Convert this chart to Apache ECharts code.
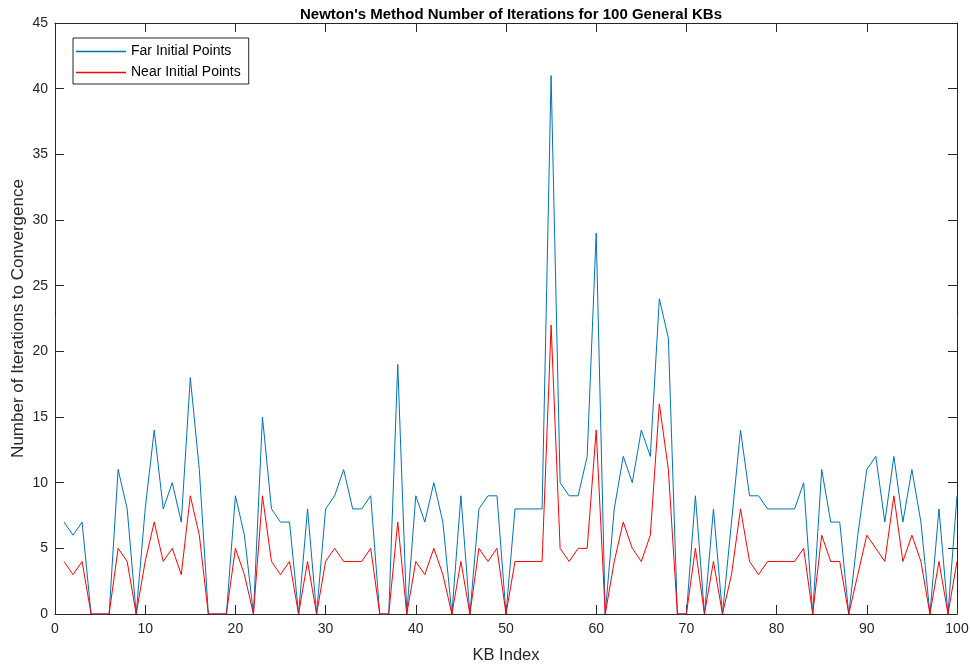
<!DOCTYPE html>
<html>
<head>
<meta charset="utf-8">
<script src="https://cdn.jsdelivr.net/npm/echarts@6/dist/echarts.min.js"></script>
<style>html,body{margin:0;padding:0;background:#fff;}#c{width:971px;height:668px;}</style>
</head>
<body>
<div id="c"></div>
<script>
const kbIndex = Array.from({length: 100}, (_, i) => i + 1);
const farIter = [
  7,6,7,0,0,0,11,8,0,8,
  14,8,10,7,18,11,0,0,0,9,
  6,0,15,8,7,7,0,8,0,8,
  9,11,8,8,9,0,0,19,0,9,
  7,10,7,0,9,0,8,9,9,0,
  8,8,8,8,41,10,9,9,12,29,
  0,8,12,10,14,12,24,21,0,0,
  9,0,8,0,7,14,9,9,8,8,
  8,8,10,0,11,7,7,0,6,11,
  12,7,12,7,11,7,0,8,0,9
];
const nearIter = [
  4,3,4,0,0,0,5,4,0,4,
  7,4,5,3,9,6,0,0,0,5,
  3,0,9,4,3,4,0,4,0,4,
  5,4,4,4,5,0,0,7,0,4,
  3,5,3,0,4,0,5,4,5,0,
  4,4,4,4,22,5,4,5,5,14,
  0,4,7,5,4,6,16,11,0,0,
  5,0,4,0,3,8,4,3,4,4,
  4,4,5,0,6,4,4,0,3,6,
  5,4,9,4,6,4,0,4,0,4
];
const axisColor = '#262626';
const font = 'Liberation Sans, Arial, Helvetica, sans-serif';
const chart = echarts.init(document.getElementById('c'));
const tickCommon = {show: true, inside: true, length: 9, lineStyle: {color: axisColor, width: 1}};
chart.setOption({
  animation: false,
  backgroundColor: '#fff',
  title: {
    text: "Newton's Method Number of Iterations for 100 General KBs",
    left: 506, top: 2, textAlign: 'center',
    textStyle: {fontFamily: font, fontSize: 15, fontWeight: 'bold', color: '#000'}
  },
  legend: {
    orient: 'vertical', left: 73, top: 38,
    padding: [6, 8, 4, 3], itemGap: 6, itemWidth: 50, itemHeight: 1.5,
    icon: 'rect',
    borderColor: '#262626', borderWidth: 1, backgroundColor: '#fff',
    textStyle: {fontFamily: font, fontSize: 14, lineHeight: 15, color: '#000'},
    data: ['Far Initial Points', 'Near Initial Points']
  },
  grid: {left: 55, right: 14, top: 23, bottom: 54, containLabel: false, outerBoundsMode: 'none'},
  xAxis: [
    {type: 'value', min: 0, max: 100, interval: 10, position: 'bottom',
     name: 'KB Index', nameLocation: 'middle', nameGap: 33, nameMoveOverlap: false,
     nameTextStyle: {fontFamily: font, fontSize: 16.5, color: axisColor},
     axisLine: {show: true, onZero: false, lineStyle: {color: axisColor, width: 1}},
     axisTick: tickCommon,
     axisLabel: {fontFamily: font, fontSize: 14, color: axisColor, margin: 8},
     splitLine: {show: false}},
    {type: 'value', min: 0, max: 100, interval: 10, position: 'top',
     axisLine: {show: true, onZero: false, lineStyle: {color: axisColor, width: 1}},
     axisTick: tickCommon, axisLabel: {show: false}, splitLine: {show: false}}
  ],
  yAxis: [
    {type: 'value', min: 0, max: 45, interval: 5, position: 'left',
     name: 'Number of Iterations to Convergence', nameLocation: 'middle', nameGap: 28,
     nameMoveOverlap: false,
     nameTextStyle: {fontFamily: font, fontSize: 17, color: axisColor},
     axisLine: {show: true, onZero: false, lineStyle: {color: axisColor, width: 1}},
     axisTick: tickCommon,
     axisLabel: {fontFamily: font, fontSize: 14, color: axisColor, margin: 7},
     splitLine: {show: false}},
    {type: 'value', min: 0, max: 45, interval: 5, position: 'right',
     axisLine: {show: true, onZero: false, lineStyle: {color: axisColor, width: 1}},
     axisTick: tickCommon, axisLabel: {show: false}, splitLine: {show: false}}
  ],
  series: [
    {name: 'Far Initial Points', type: 'line', xAxisIndex: 0, yAxisIndex: 0,
     symbol: 'none', data: kbIndex.map((x, i) => [x, farIter[i]]),
     lineStyle: {color: '#0072BD', width: 1}, itemStyle: {color: '#0072BD'}},
    {name: 'Near Initial Points', type: 'line', xAxisIndex: 0, yAxisIndex: 0,
     symbol: 'none', data: kbIndex.map((x, i) => [x, nearIter[i]]),
     lineStyle: {color: '#FF0000', width: 1}, itemStyle: {color: '#FF0000'}}
  ]
});
</script>
</body>
</html>
